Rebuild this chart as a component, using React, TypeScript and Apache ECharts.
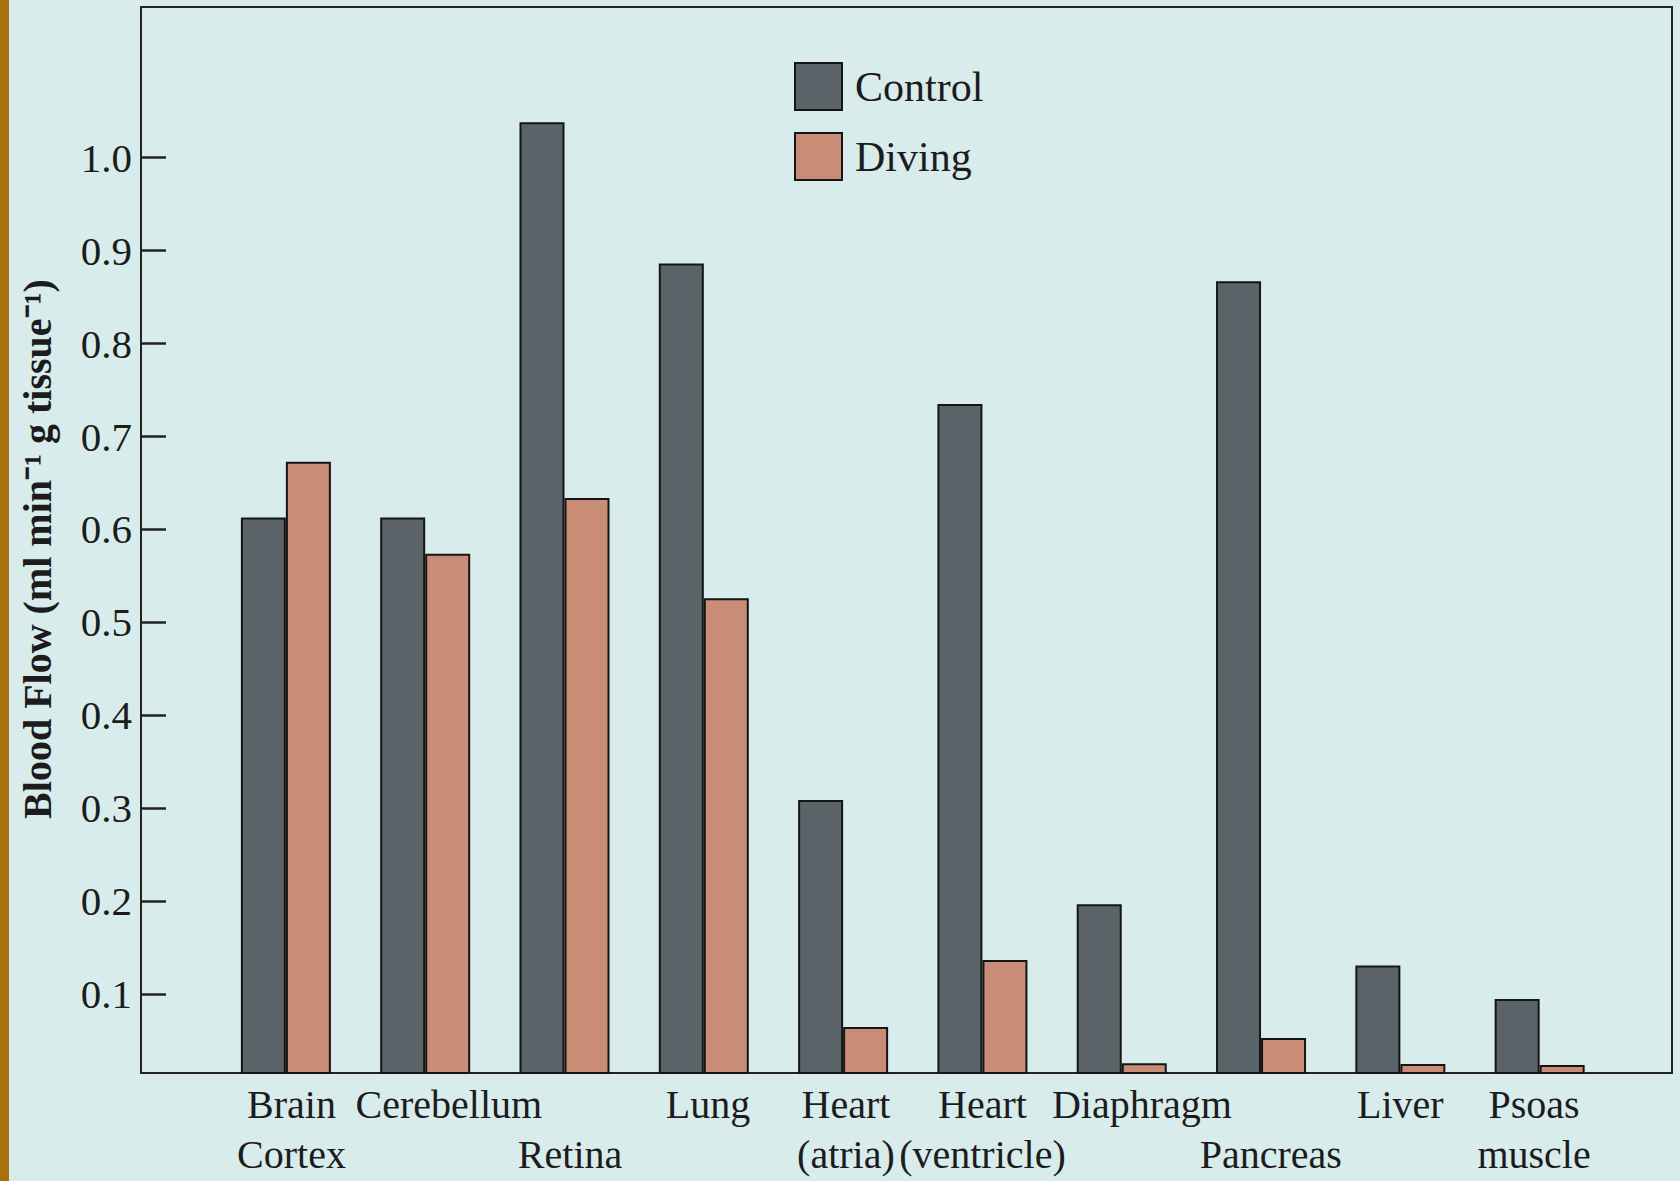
import React, { useEffect, useRef } from "react";
import * as echarts from "echarts";

const categories = [
  "Brain\nCortex",
  "Cerebellum",
  "\nRetina",
  "Lung",
  "Heart\n(atria)",
  "Heart\n(ventricle)",
  "Diaphragm",
  "\nPancreas",
  "Liver",
  "Psoas\nmuscle",
];
const controlValues = [0.613, 0.613, 1.038, 0.886, 0.309, 0.735, 0.197, 0.867, 0.131, 0.095];
const divingValues = [0.673, 0.574, 0.634, 0.526, 0.065, 0.137, 0.026, 0.053, 0.025, 0.024];
const yTicks = [0.1, 0.2, 0.3, 0.4, 0.5, 0.6, 0.7, 0.8, 0.9, 1.0];

// small horizontal nudges (in category units) of the printed labels relative to the bar pairs
const labelShift = [0.04, 0.17, 0.04, 0.03, 0.02, 0, 0.145, 0.07, 0, -0.04];

const FONT = "'Liberation Serif', 'Times New Roman', serif";
const INK = "#1c1c1c";

export default function App() {
  const ref = useRef<HTMLDivElement>(null);
  useEffect(() => {
    if (!ref.current) return;
    const chart = echarts.init(ref.current, undefined, { renderer: "svg" });
    const labelPositions = categories.map((_, i) => i + labelShift[i]);
    chart.setOption({
      animation: false,
      backgroundColor: "#d8ecec",
      textStyle: { fontFamily: FONT, color: INK },
      grid: {
        left: 141,
        right: 8,
        top: 7,
        bottom: 108,
        show: true,
        borderColor: "#222",
        borderWidth: 2,
        backgroundColor: "transparent",
        outerBoundsMode: "none",
        containLabel: false,
      },
      legend: {
        orient: "vertical",
        left: 789,
        top: 57,
        itemWidth: 47,
        itemHeight: 47,
        itemGap: 21,
        icon: "rect",
        textStyle: { fontFamily: FONT, fontSize: 42, color: INK, padding: [0, 0, 0, 8] },
        data: ["Control", "Diving"],
      },
      graphic: [
        {
          type: "rect",
          left: 0,
          top: 0,
          shape: { width: 9, height: 1181 },
          style: { fill: "#a6720f" },
          z: 100,
        },
      ],
      xAxis: {
        type: "value",
        min: -1.04,
        max: 9.95,
        splitLine: { show: false },
        axisTick: { show: false },
        axisLine: { show: true, onZero: false, lineStyle: { color: "#222", width: 2 } },
        axisLabel: {
          customValues: labelPositions,
          showMinLabel: true,
          showMaxLabel: true,
          hideOverlap: false,
          formatter: (v: number) => categories[Math.round(v)] ?? "",
          fontFamily: FONT,
          fontSize: 40,
          color: INK,
          lineHeight: 50,
          margin: 6,
          align: "center",
          verticalAlign: "top",
        },
      },
      yAxis: {
        type: "value",
        min: 0.0154,
        max: 1.162,
        splitLine: { show: false },
        axisLine: { show: true, onZero: false, lineStyle: { color: "#222", width: 2 } },
        axisTick: {
          show: true,
          inside: true,
          length: 25,
          customValues: yTicks,
          lineStyle: { color: "#222", width: 2.5 },
        },
        axisLabel: {
          customValues: yTicks,
          formatter: (v: number) => v.toFixed(1),
          fontFamily: FONT,
          fontSize: 41,
          color: INK,
          margin: 9,
        },
        name: "Blood Flow (ml min\u207B\u00B9 g tissue\u207B\u00B9)",
        nameLocation: "middle",
        nameRotate: 90,
        nameGap: 84,
        nameTextStyle: {
          fontFamily: FONT,
          fontSize: 40,
          fontWeight: "bold",
          color: INK,
          padding: [0, 18, 0, 0],
        },
      },
      series: [
        {
          name: "Control",
          type: "bar",
          barWidth: 45,
          barGap: "0%",
          data: controlValues.map((v, i) => [i, v]),
          itemStyle: { color: "#5a6468", borderColor: "#151515", borderWidth: 2 },
        },
        {
          name: "Diving",
          type: "bar",
          barWidth: 45,
          barGap: "0%",
          data: divingValues.map((v, i) => [i, v]),
          itemStyle: { color: "#c98c76", borderColor: "#151515", borderWidth: 2 },
        },
      ],
    });
    return () => chart.dispose();
  }, []);
  return (
    <div
      ref={ref}
      style={{ position: "fixed", left: 0, top: 0, width: 1680, height: 1181 }}
    />
  );
}
